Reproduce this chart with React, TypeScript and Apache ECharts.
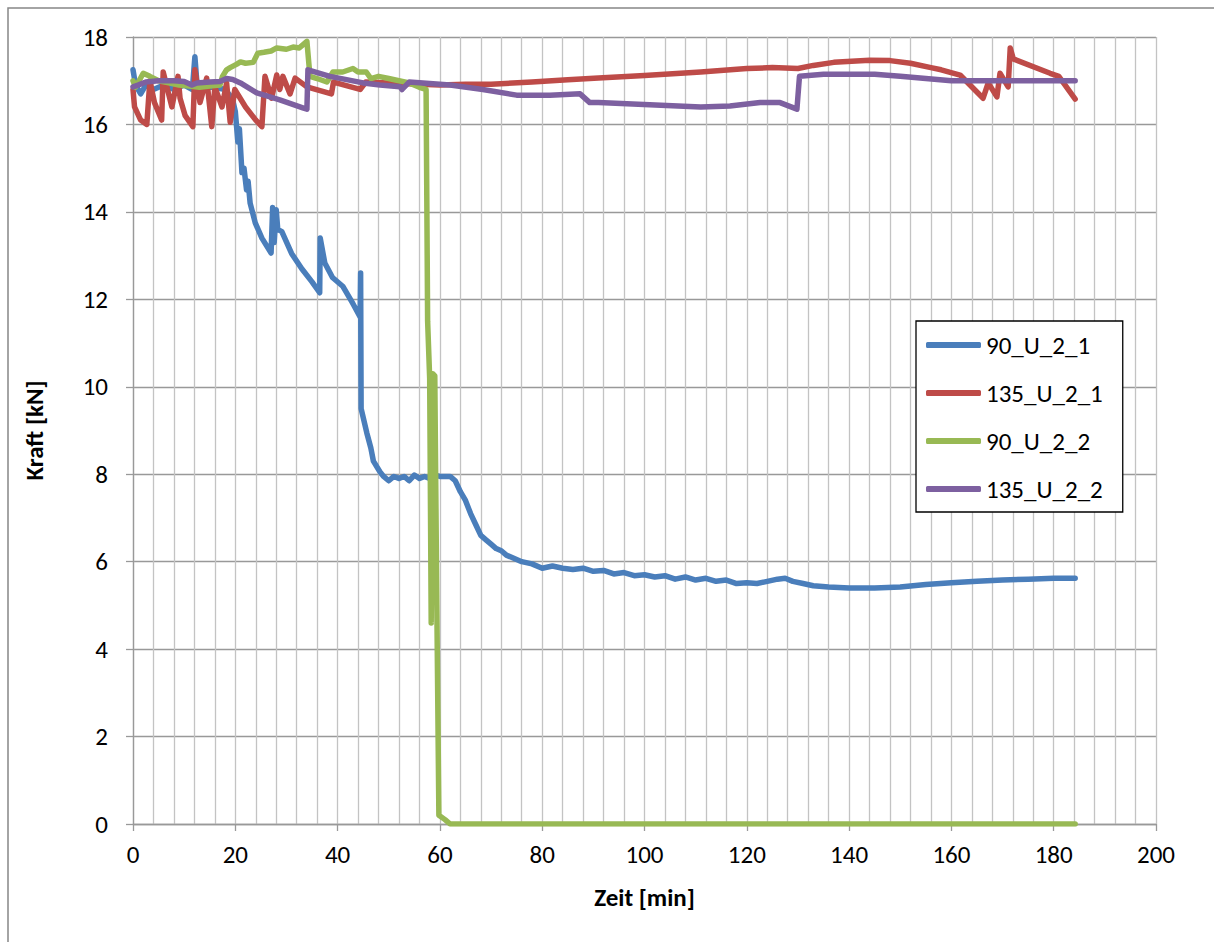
import React, { useEffect, useRef } from "react";
import * as echarts from "echarts";

const seriesNames = ["90_U_2_1", "135_U_2_1", "90_U_2_2", "135_U_2_2"];
const seriesColors = ["#4A7EBB", "#BE4B48", "#98B954", "#7D60A0"];

const blue90_1: number[][] = [
  [0, 17.25], [0.5, 16.9], [1.5, 16.7], [2.5, 16.9], [4, 16.8], [6, 16.9], [8, 16.8], [10, 16.9],
  [11.6, 16.8], [12.1, 17.55], [12.6, 16.8], [13.1, 16.6], [14, 16.85], [16, 16.85], [18, 16.8],
  [19.4, 16.6], [20.0, 16.3], [20.5, 15.6], [20.8, 15.9], [21.3, 14.9], [21.7, 15.0], [22.2, 14.5],
  [22.5, 14.7], [22.9, 14.2], [23.9, 13.75], [25.2, 13.4], [27.0, 13.06], [27.3, 14.1], [27.6, 13.3],
  [28.0, 14.05], [28.3, 13.6], [29.1, 13.55], [31, 13.05], [33, 12.7], [35, 12.4], [36.5, 12.15],
  [36.6, 13.4], [37.5, 12.83], [39, 12.5], [41, 12.3], [43, 11.9], [44.4, 11.6], [44.5, 12.6],
  [44.6, 9.5], [45.7, 8.95], [46.5, 8.6], [47, 8.3], [48.3, 8.05], [49, 7.95], [50, 7.85], [51, 7.95],
  [52, 7.9], [53, 7.95], [54, 7.85], [55, 7.98], [56, 7.9], [57, 7.95], [58, 7.9], [59, 7.98],
  [60, 7.95], [61, 7.95], [62, 7.95], [63, 7.85], [64, 7.6], [65, 7.4], [66, 7.1], [67, 6.85],
  [68, 6.6], [69, 6.5], [70, 6.4], [71, 6.3], [72, 6.25], [73, 6.15], [74, 6.1], [76, 6.0],
  [78, 5.95], [80, 5.85], [82, 5.9], [84, 5.85], [86, 5.82], [88, 5.85], [90, 5.78], [92, 5.8],
  [94, 5.72], [96, 5.75], [98, 5.68], [100, 5.7], [102, 5.65], [104, 5.68], [106, 5.6], [108, 5.65],
  [110, 5.58], [112, 5.62], [114, 5.55], [116, 5.58], [118, 5.5], [120, 5.52], [122, 5.5],
  [124, 5.55], [126, 5.6], [127.5, 5.62], [129, 5.55], [131, 5.5], [133, 5.45], [136, 5.42],
  [140, 5.4], [145, 5.4], [150, 5.42], [155, 5.48], [160, 5.52], [165, 5.55], [170, 5.58],
  [175, 5.6], [180, 5.62], [184.2, 5.62],
];

const red135_1: number[][] = [
  [0, 16.8], [0.3, 16.4], [1.5, 16.1], [2.7, 16.0], [3.3, 17.0], [4.2, 16.5], [5.6, 16.1],
  [5.9, 17.2], [7.6, 16.4], [8.8, 17.1], [9.2, 16.6], [10.2, 16.2], [11.7, 15.95], [12.1, 17.25],
  [13.1, 16.5], [14.4, 17.06], [15.4, 15.95], [16.0, 16.86], [17.4, 16.4], [18.3, 16.95],
  [19.0, 16.05], [19.9, 16.8], [22, 16.4], [24, 16.1], [25.2, 15.95], [25.8, 17.1], [27.1, 16.6],
  [28.1, 17.13], [28.7, 16.8], [29.3, 17.1], [30.7, 16.7], [31.7, 17.06], [34, 16.86],
  [38.8, 16.7], [39.2, 16.97], [44.4, 16.8], [45.5, 16.97], [50, 16.95], [60, 16.9], [65, 16.92],
  [70, 16.92], [78, 16.97], [85, 17.02], [91, 17.06], [100, 17.12], [111, 17.2], [120, 17.28],
  [125, 17.3], [130, 17.28], [133, 17.35], [137, 17.42], [144, 17.47], [148, 17.46], [152, 17.4],
  [156, 17.3], [158, 17.25], [161.7, 17.13], [166.2, 16.6], [167.2, 16.95], [168.9, 16.63],
  [169.5, 17.17], [171.1, 16.86], [171.5, 17.75], [172.1, 17.5], [179.3, 17.17], [181, 17.1],
  [184.2, 16.58],
];

const green90_2: number[][] = [
  [0, 17.0], [0.5, 16.85], [2, 17.17], [3.3, 17.1], [5, 17.0], [7, 16.95], [9, 16.9], [11, 16.88],
  [13, 16.85], [15, 16.88], [17, 16.9], [17.5, 17.1], [18.3, 17.25], [19, 17.3], [20.3, 17.38],
  [21, 17.43], [22, 17.4], [23.5, 17.42], [24.4, 17.63], [25.6, 17.65], [27, 17.68], [28.1, 17.75],
  [30, 17.72], [31.3, 17.77], [32.5, 17.75], [33.2, 17.82], [34, 17.9], [34.6, 17.1], [36, 17.05],
  [37.9, 16.97], [39.1, 17.2], [41, 17.2], [43, 17.28], [44, 17.2], [45.6, 17.2], [46.5, 17.05],
  [48, 17.1], [50, 17.05], [52, 17.0], [54, 16.95], [56, 16.85], [57.3, 16.8], [57.6, 11.5],
  [58.0, 10.2], [58.3, 4.6], [58.6, 10.3], [59.0, 10.25], [59.4, 5.0], [59.8, 0.2], [61, 0.1],
  [62, 0], [184.2, 0],
];

const purple135_2: number[][] = [
  [0, 16.86], [1, 16.9], [2.5, 16.97], [5, 17.0], [8, 17.0], [10, 16.98], [11.5, 16.9],
  [12.5, 16.95], [15, 16.97], [17, 16.98], [18.3, 17.05], [19.5, 17.03], [21, 16.95],
  [24.2, 16.72], [28.7, 16.56], [33.2, 16.38], [34, 16.35], [34.2, 17.25], [38.5, 17.1],
  [45, 16.95], [48.3, 16.9], [52.2, 16.86], [52.6, 16.8], [54, 16.97], [62, 16.9], [68.4, 16.8],
  [75, 16.67], [81.5, 16.67], [87.4, 16.7], [89.3, 16.5], [91, 16.5], [101, 16.45], [111, 16.4],
  [116.7, 16.42], [122.6, 16.5], [126.5, 16.5], [129.8, 16.35], [130.3, 17.1], [135, 17.15],
  [145, 17.15], [150, 17.1], [155, 17.05], [160, 17.0], [170, 17.0], [184.2, 17.0],
];

const seriesData = [blue90_1, red135_1, green90_2, purple135_2];

const FONT = "Carlito, Calibri, Lato, sans-serif";
const FS = 25;

export default function App() {
  const ref = useRef<HTMLDivElement>(null);
  useEffect(() => {
    document.body.style.margin = "0";
    const chart = echarts.init(ref.current!, null, { renderer: "svg" });
    chart.setOption({
      animation: false,
      backgroundColor: "#fff",
      textStyle: { fontFamily: FONT },
      graphic: [
        {
          type: "rect",
          shape: { x: 8, y: 8, width: 1300, height: 1000 },
          style: { fill: "none", stroke: "#878787", lineWidth: 1.5 },
          silent: true,
        },
      ],
      grid: { left: 133, top: 37, width: 1023, height: 787, containLabel: false },
      xAxis: {
        type: "value",
        min: 0,
        max: 200,
        interval: 20,
        name: "Zeit [min]",
        nameLocation: "middle",
        nameGap: 61,
        nameTextStyle: { fontFamily: FONT, fontSize: FS, fontWeight: "bold", color: "#000" },
        axisLine: { show: true, lineStyle: { color: "#999", width: 1.3 } },
        axisTick: { show: true, inside: false, length: 7, lineStyle: { color: "#999", width: 1.3 } },
        axisLabel: { fontFamily: FONT, fontSize: FS, color: "#000", margin: 18 },
        splitLine: { show: true, lineStyle: { color: "#c3c3c3", width: 1.3 } },
        minorTick: { show: false, splitNumber: 5 },
        minorSplitLine: { show: true, lineStyle: { color: "#c3c3c3", width: 1.3 } },
      },
      yAxis: {
        type: "value",
        min: 0,
        max: 18,
        interval: 2,
        name: "Kraft [kN]",
        nameLocation: "middle",
        nameGap: 86,
        nameRotate: 90,
        nameTextStyle: { fontFamily: FONT, fontSize: FS, fontWeight: "bold", color: "#000" },
        axisLine: { show: true, lineStyle: { color: "#999", width: 1.3 } },
        axisTick: { show: true, inside: false, length: 7, lineStyle: { color: "#999", width: 1.3 } },
        axisLabel: { fontFamily: FONT, fontSize: FS, color: "#000", margin: 25 },
        splitLine: { show: true, lineStyle: { color: "#999", width: 1.3 } },
      },
      legend: {
        show: true,
        orient: "vertical",
        left: 916,
        top: 321,
        backgroundColor: "#fff",
        borderColor: "#000",
        borderWidth: 1.3,
        padding: [10, 20, 9, 10],
        itemGap: 20,
        itemWidth: 55,
        itemHeight: 6,
        icon: "roundRect",
        textStyle: { fontFamily: FONT, fontSize: FS, color: "#000", lineHeight: 28 },
        data: seriesNames,
      },
      series: seriesNames.map((name, i) => ({
        name,
        type: "line",
        data: seriesData[i],
        showSymbol: false,
        symbol: "none",
        color: seriesColors[i],
        lineStyle: { color: seriesColors[i], width: 5.5, cap: "round", join: "round" },
        itemStyle: { color: seriesColors[i] },
        z: 2 + i,
      })),
    });
    return () => chart.dispose();
  }, []);
  return <div ref={ref} style={{ width: 1214, height: 942 }} />;
}
